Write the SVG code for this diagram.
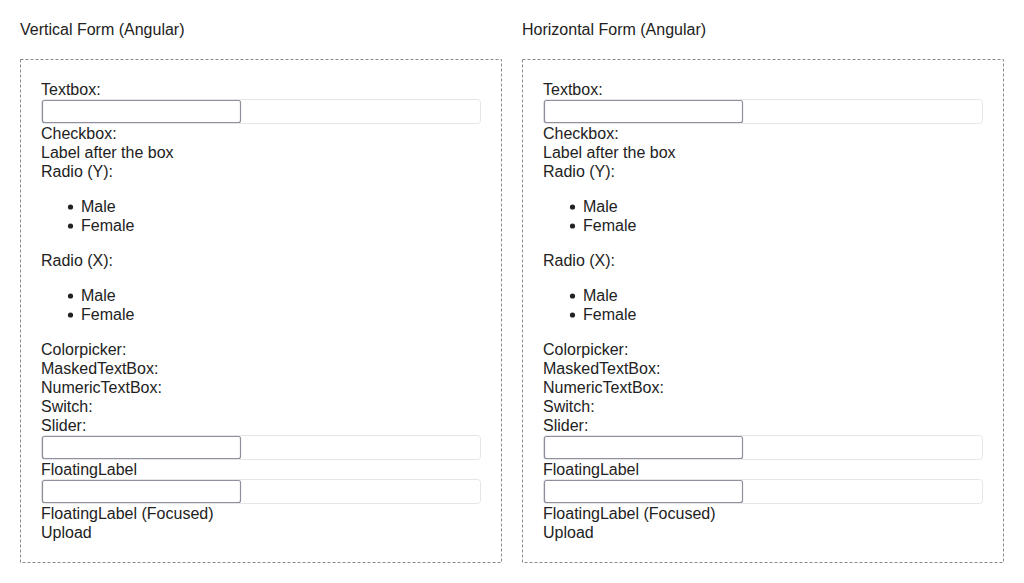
<svg xmlns="http://www.w3.org/2000/svg" width="1024" height="583" viewBox="0 0 1024 583">
<style>
text{font-family:"Liberation Sans",Arial,sans-serif;font-size:16px;fill:#222}
.frame{fill:none;stroke:#8a8a8a;stroke-width:1;stroke-dasharray:3 2}
.wide{fill:#fff;stroke:#e6e6e6;stroke-width:1}
.inp{fill:#fff;stroke:#8f8f9d;stroke-width:1.2}
.dot{fill:#222}
</style>
<rect width="1024" height="583" fill="#fff"/>
<g id="vertical">
<text x="20" y="35">Vertical Form (Angular)</text>
<rect class="frame" x="20.5" y="59.5" width="481" height="503"/>
<text x="41" y="95">Textbox:</text>
<rect class="wide" x="41.5" y="99.5" width="439" height="24" rx="3"/>
<rect class="inp" x="42.5" y="100.5" width="198" height="22" rx="2"/>
<text x="41" y="139">Checkbox:</text>
<text x="41" y="158">Label after the box</text>
<text x="41" y="177">Radio (Y):</text>
<circle class="dot" cx="70.5" cy="207" r="2.6"/>
<text x="81" y="212">Male</text>
<circle class="dot" cx="70.5" cy="226" r="2.6"/>
<text x="81" y="231">Female</text>
<text x="41" y="266">Radio (X):</text>
<circle class="dot" cx="70.5" cy="296" r="2.6"/>
<text x="81" y="301">Male</text>
<circle class="dot" cx="70.5" cy="315" r="2.6"/>
<text x="81" y="320">Female</text>
<text x="41" y="355">Colorpicker:</text>
<text x="41" y="374">MaskedTextBox:</text>
<text x="41" y="393">NumericTextBox:</text>
<text x="41" y="412">Switch:</text>
<text x="41" y="431">Slider:</text>
<rect class="wide" x="41.5" y="435.5" width="439" height="24" rx="3"/>
<rect class="inp" x="42.5" y="436.5" width="198" height="22" rx="2"/>
<text x="41" y="475">FloatingLabel</text>
<rect class="wide" x="41.5" y="479.5" width="439" height="24" rx="3"/>
<rect class="inp" x="42.5" y="480.5" width="198" height="22" rx="2"/>
<text x="41" y="519">FloatingLabel (Focused)</text>
<text x="41" y="538">Upload</text>
</g>
<g id="horizontal">
<text x="522" y="35">Horizontal Form (Angular)</text>
<rect class="frame" x="522.5" y="59.5" width="481" height="503"/>
<text x="543" y="95">Textbox:</text>
<rect class="wide" x="543.5" y="99.5" width="439" height="24" rx="3"/>
<rect class="inp" x="544.5" y="100.5" width="198" height="22" rx="2"/>
<text x="543" y="139">Checkbox:</text>
<text x="543" y="158">Label after the box</text>
<text x="543" y="177">Radio (Y):</text>
<circle class="dot" cx="572.5" cy="207" r="2.6"/>
<text x="583" y="212">Male</text>
<circle class="dot" cx="572.5" cy="226" r="2.6"/>
<text x="583" y="231">Female</text>
<text x="543" y="266">Radio (X):</text>
<circle class="dot" cx="572.5" cy="296" r="2.6"/>
<text x="583" y="301">Male</text>
<circle class="dot" cx="572.5" cy="315" r="2.6"/>
<text x="583" y="320">Female</text>
<text x="543" y="355">Colorpicker:</text>
<text x="543" y="374">MaskedTextBox:</text>
<text x="543" y="393">NumericTextBox:</text>
<text x="543" y="412">Switch:</text>
<text x="543" y="431">Slider:</text>
<rect class="wide" x="543.5" y="435.5" width="439" height="24" rx="3"/>
<rect class="inp" x="544.5" y="436.5" width="198" height="22" rx="2"/>
<text x="543" y="475">FloatingLabel</text>
<rect class="wide" x="543.5" y="479.5" width="439" height="24" rx="3"/>
<rect class="inp" x="544.5" y="480.5" width="198" height="22" rx="2"/>
<text x="543" y="519">FloatingLabel (Focused)</text>
<text x="543" y="538">Upload</text>
</g>
<g id="connectors"/>
</svg>
